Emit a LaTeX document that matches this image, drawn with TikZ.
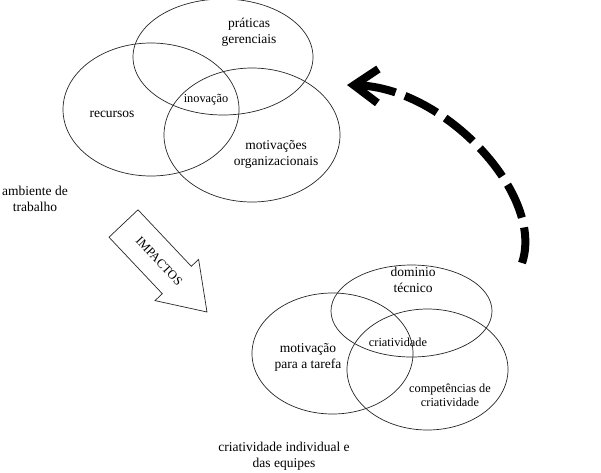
\documentclass[tikz,border=0pt]{standalone}
\usepackage{fontspec}
\setmainfont{Liberation Serif}
\usetikzlibrary{shapes.geometric,arrows.meta}
\tikzset{
  venn/.style={draw=black!85, line width=0.7pt, ellipse, inner sep=0pt},
  lbl/.style={align=center, inner sep=0pt, font=\fontsize{13.5}{16}\selectfont},
  smalllbl/.style={align=center, inner sep=0pt, font=\fontsize{12.3}{14}\selectfont},
  bigarrow/.style={draw=black!85, line width=0.7pt, fill=white},
  feedback/.style={line width=8pt, dash pattern=on 36pt off 10pt, -{Straight Barb[length=24pt,width=34pt]}}
}
\begin{document}
\begin{tikzpicture}[x=1pt,y=-1pt]
\useasboundingbox (0,0) rectangle (601,472);
% top group
\node[venn, minimum width=180pt, minimum height=116pt] (e1) at (223,57) {};
\node[venn, minimum width=176pt, minimum height=133pt] (e2) at (151,109.5) {};
\node[venn, minimum width=176pt, minimum height=134pt] (e3) at (252,135) {};
\node[lbl] (t1) at (249,32) {práticas\\gerenciais};
\node[lbl] (t2) at (112,114) {recursos};
\node[smalllbl] (t3) at (206,100) {inovação};
\node[lbl] (t4) at (276,154) {motivações\\organizacionais};
\node[lbl] (t5) at (35,199) {ambiente de\\trabalho};
% impact arrow
\draw[bigarrow] (138.0,209.8) -- (109.0,237.2) -- (162.3,293.7) -- (155.0,300.6)
  -- (207,312) -- (198.6,259.4) -- (191.3,266.3) -- cycle;
\node[inner sep=0pt, rotate=-46.7, font=\fontsize{12.5}{14}\selectfont] (imp) at (159.2,261.3) {IMPACTOS};
% bottom group
\node[venn, minimum width=161pt, minimum height=92pt] (e4) at (411.5,311) {};
\node[venn, minimum width=161pt, minimum height=121pt] (e5) at (332.5,353.5) {};
\node[venn, minimum width=161pt, minimum height=121pt] (e6) at (427.5,369.5) {};
\node[lbl] (b1) at (413,280) {dominio\\técnico};
\node[smalllbl] (b2) at (398,342) {criatividade};
\node[lbl] (b3) at (308,357) {motivação\\para a tarefa};
\node[smalllbl] (b4) at (450,395) {competências de\\criatividade};
\node[lbl] (b5) at (284,456) {criatividade individual e\\das equipes};
% feedback arrow
\coordinate (fs) at (522,263);
\coordinate (fe) at (347,85);
\draw[feedback] (fs) .. controls (545,195) and (445,88) .. (fe);
\end{tikzpicture}
\end{document}
